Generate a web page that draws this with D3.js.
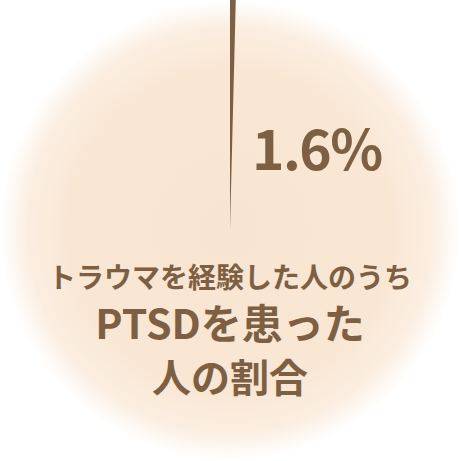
<!DOCTYPE html>
<html><head><meta charset="utf-8">
<script src="https://cdn.jsdelivr.net/npm/d3@7"></script>
<style>html,body{margin:0;padding:0;background:#fff;}svg{display:block;}</style>
</head><body>
<script>
const values = [1.6];
const valueLabels = ["1.6%"];
const titleLines = ["トラウマを経験した人のうち", "PTSDを患った", "人の割合"];

const W = 460, H = 461, cx = 230, cy = 230, R = 230;
const svg = d3.select("body").append("svg").attr("width", W).attr("height", H);
const defs = svg.append("defs");
const grad = defs.append("radialGradient").attr("id", "bg");
grad.append("stop").attr("offset", "0%").attr("stop-color", "#f8e5d1");
grad.append("stop").attr("offset", "70%").attr("stop-color", "#f9e7d4");
grad.append("stop").attr("offset", "88%").attr("stop-color", "#fbeee1");
grad.append("stop").attr("offset", "100%").attr("stop-color", "#ffffff");
svg.append("circle").attr("cx", cx).attr("cy", cy).attr("r", R).attr("fill", "url(#bg)");

const ang = d3.scaleLinear().domain([0, 100]).range([0, Math.PI / 2]);
const arc = d3.arc().innerRadius(0).outerRadius(R);
const g = svg.append("g").attr("transform", `translate(${cx},${cy})`);
g.selectAll("path").data(values).join("path")
  .attr("d", d => arc({startAngle: 0, endAngle: ang(d)}))
  .attr("fill", "#7d6044");

const col = "#7d6044";
const font = "'Noto Sans CJK JP', sans-serif";
svg.append("text").text(valueLabels[0]).attr("x", 252).attr("y", 170)
  .attr("font-family", font).attr("font-weight", 700).attr("font-size", 55)
  .attr("letter-spacing", -1.5).attr("fill", col);

const ty = [288, 339, 392];
const fs = [28, 41, 39];
svg.selectAll("text.t").data(titleLines).join("text").attr("class", "t")
  .text(d => d).attr("x", cx).attr("y", (d, i) => ty[i])
  .attr("text-anchor", "middle").attr("font-family", font).attr("font-weight", 700)
  .attr("font-size", (d, i) => fs[i]).attr("fill", col);
</script>
</body></html>
